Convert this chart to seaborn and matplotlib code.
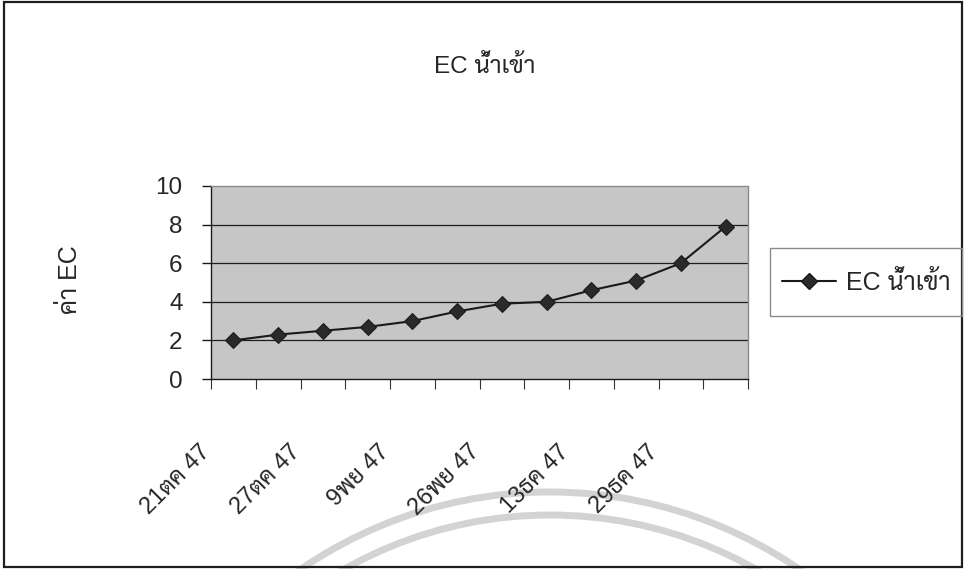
import numpy as np
import pandas as pd
import matplotlib
matplotlib.use("Agg")
import matplotlib.pyplot as plt
import seaborn as sns
from matplotlib.patches import Rectangle, Circle
from matplotlib.lines import Line2D
from matplotlib.transforms import ScaledTranslation

# ---- data ----
title_text = "EC น้ำเข้า"
y_label = "ค่า EC"
series_name = "EC น้ำเข้า"
ec_values = [2.0, 2.3, 2.5, 2.7, 3.0, 3.5, 3.9, 4.0, 4.6, 5.1, 6.0, 7.9]
date_labels = ["21ตค 47", "27ตค 47", "9พย 47", "26พย 47", "13ธค 47", "29ธค 47"]
y_ticks = [0, 2, 4, 6, 8, 10]

sns.set_theme(style="white")
# Latin text in an Arial-like face, Thai glyphs from Sarabun
plt.rcParams["font.family"] = ["Liberation Sans", "Sarabun", "DejaVu Sans"]

W, H = 965, 569
fig = plt.figure(figsize=(W / 100, H / 100), dpi=100)

# full-figure overlay in pixel units: outer frame, legend box, faint seal arcs
bg = fig.add_axes([0, 0, 1, 1], zorder=-1)
bg.set_xlim(0, W)
bg.set_ylim(H, 0)
bg.axis("off")
bg.patch.set_alpha(0)
for r in (441, 418):
    bg.add_patch(Circle((550, 933), r, fill=False, lw=5, ec="#d3d3d3"))
bg.add_patch(Rectangle((4, 2), 958, 565, fill=False, lw=1.6, ec="#1e1e1e",
                       clip_on=False))
bg.add_patch(Rectangle((770, 248), 192, 68, fill=False, lw=1.0, ec="#8a8a8a"))

# plot area
ax = fig.add_axes([211 / W, 1 - 379 / H, 537 / W, 193 / H])
ax.set_facecolor("#c6c6c6")

df = pd.DataFrame({"pos": np.arange(len(ec_values)), "ec": ec_values})
sns.lineplot(data=df, x="pos", y="ec", ax=ax, color="#1a1a1a", lw=1.5,
             marker="D", markersize=8.5, markerfacecolor="#2a2a2a",
             markeredgecolor="#1a1a1a", legend=False, zorder=3)

ax.set_xlim(-0.5, len(ec_values) - 0.5)
ax.set_ylim(0, 10)
ax.set_xlabel("")
ax.set_ylabel("")

for yv in y_ticks[1:-1]:
    ax.axhline(yv, color="#1e1e1e", lw=0.9, zorder=1)

for side in ("left", "bottom"):
    ax.spines[side].set_color("#1a1a1a")
    ax.spines[side].set_linewidth(1.0)
for side in ("top", "right"):
    ax.spines[side].set_color("#8a8a8a")
    ax.spines[side].set_linewidth(1.0)
ax.spines["top"].set_linestyle((0, (2, 1)))

ax.set_yticks(y_ticks)
ax.tick_params(axis="y", length=6.5, width=1, color="#1a1a1a", pad=14,
               labelsize=17.5, direction="out", left=True)

# tick marks at category boundaries, labels on every other category
ax.set_xticks(np.arange(-0.5, len(ec_values), 1))
ax.set_xticklabels([])
ax.tick_params(axis="x", which="major", length=7, width=0.8, color="#333333",
               direction="out", bottom=True)
ax.set_xticks(np.arange(0, len(ec_values), 2), labels=date_labels, minor=True)
ax.tick_params(axis="x", which="minor", length=0, pad=50, labelsize=17)
shift = ScaledTranslation(-0.26, 0, fig.dpi_scale_trans)
for lab in ax.get_xticklabels(minor=True):
    lab.set_rotation(45)
    lab.set_rotation_mode("anchor")
    lab.set_ha("right")
    lab.set_va("center")
    lab.set_transform(lab.get_transform() + shift)

# title, axis label, legend
fig.text(485 / W, 1 - 66 / H, title_text, ha="center", va="center",
         fontsize=17.5)
fig.text(70 / W, 1 - 280 / H, y_label, ha="center", va="center",
         rotation=90, fontsize=18)

handle = Line2D([], [], color="#1a1a1a", lw=1.5, marker="D", markersize=8.5,
                markerfacecolor="#2a2a2a", markeredgecolor="#1a1a1a")
fig.legend([handle], [series_name], loc="center left",
           bbox_to_anchor=(782 / W, 1 - 283 / H), fontsize=18,
           frameon=False, handlelength=2.15, handletextpad=0.42,
           borderpad=0, borderaxespad=0)

fig.savefig("out.png", dpi=100)
